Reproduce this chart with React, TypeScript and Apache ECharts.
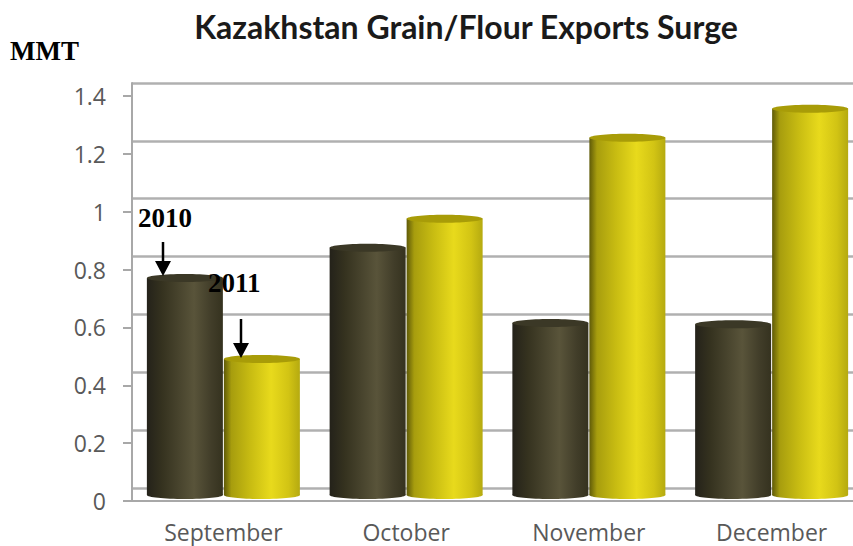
import React, { useEffect, useRef } from "react";
import * as echarts from "echarts";

const months = ["September", "October", "November", "December"];
const exports2010 = [0.75, 0.855, 0.595, 0.59];
const exports2011 = [0.47, 0.955, 1.235, 1.335];
const titleText = "Kazakhstan Grain/Flour Exports Surge";
const unitText = "MMT";

const AXIS_GREY = "#a8a8a8";
const DEPTH = 6;
const BAR_W = 76;
const RY = 4;

function grad(stops: [number, string][]) {
  return new echarts.graphic.LinearGradient(0, 0, 1, 0, stops.map(([offset, color]) => ({ offset, color })));
}
const darkBody: [number, string][] = [[0, "#24221a"], [0.2, "#35321f"], [0.62, "#59543a"], [0.85, "#413d29"], [1, "#35321f"]];
const yellowBody: [number, string][] = [[0, "#5f5a08"], [0.1, "#a79d0e"], [0.35, "#c8bc12"], [0.62, "#e8da1c"], [0.85, "#d2c414"], [1, "#b5aa10"]];

function cylinder(side: number, body: [number, string][], top: string) {
  return (params: any, api: any) => {
    const idx = api.value(0);
    const [cx, yTop] = api.coord([idx, api.value(1)]);
    const [, yBase] = api.coord([idx, 0]);
    const x = side === 0 ? cx - BAR_W - 0.5 : cx + 0.5;
    const t = yTop - DEPTH;
    const b = yBase - DEPTH;
    const fill = grad(body);
    return {
      type: "group",
      children: [
        { type: "ellipse", shape: { cx: x + BAR_W / 2, cy: b, rx: BAR_W / 2, ry: RY }, style: { fill } },
        { type: "rect", shape: { x, y: t, width: BAR_W, height: b - t }, style: { fill } },
        { type: "ellipse", shape: { cx: x + BAR_W / 2, cy: t, rx: BAR_W / 2, ry: RY }, style: { fill: top } },
      ],
    };
  };
}

function arrow(x: number, y1: number, y2: number) {
  return [
    { type: "line", z: 100, shape: { x1: x, y1, x2: x, y2: y2 - 8 }, style: { stroke: "#000", lineWidth: 2.5 } },
    { type: "polygon", z: 100, shape: { points: [[x - 8, y2 - 15], [x + 8, y2 - 15], [x, y2]] }, style: { fill: "#000" } },
  ];
}
function note(text: string, x: number, y: number) {
  return {
    type: "text", z: 100, x, y,
    style: { text, fill: "#000", font: 'bold 27px "Liberation Serif"', textVerticalAlign: "middle" },
  };
}

export default function App() {
  const ref = useRef<HTMLDivElement>(null);
  useEffect(() => {
    document.body.style.margin = "0";
    const chart = echarts.init(ref.current!, undefined, { renderer: "svg" });
    const yBase = { type: "value", min: 0, max: 1.4, interval: 0.2 };
    chart.setOption({
      animation: false,
      backgroundColor: "#fff",
      title: {
        text: titleText,
        left: 461,
        top: 5,
        textAlign: "center",
        textStyle: { fontFamily: "Lato", fontWeight: 700, fontSize: 32, color: "#1a1a1a" },
      },
      grid: [
        { left: 132, top: 96, width: 731, height: 405 },
        { left: 132, top: 83, width: 731, height: 405 },
      ],
      xAxis: [
        {
          type: "category", data: months, gridIndex: 0,
          axisLine: { lineStyle: { color: AXIS_GREY, width: 2 } },
          axisTick: { length: 9, lineStyle: { color: AXIS_GREY, width: 2 } },
          axisLabel: { color: "#595959", fontFamily: "Open Sans", fontSize: 23, margin: 19 },
        },
        { type: "category", data: months, gridIndex: 1, show: false },
      ],
      yAxis: [
        {
          ...yBase, gridIndex: 0,
          axisLine: { show: true, lineStyle: { color: AXIS_GREY, width: 2 } },
          axisTick: { show: true, length: 9, lineStyle: { color: AXIS_GREY, width: 2 } },
          axisLabel: { color: "#595959", fontFamily: "Open Sans", fontSize: 23, margin: 26 },
          splitLine: { show: false },
        },
        {
          ...yBase, gridIndex: 1,
          axisLine: { show: true, lineStyle: { color: AXIS_GREY, width: 2 } },
          axisTick: { show: false },
          axisLabel: { show: false },
          splitLine: { show: true, lineStyle: { color: "#b0b0b0", width: 2.5 } },
        },
      ],
      series: [
        {
          name: "2010", type: "custom", xAxisIndex: 0, yAxisIndex: 0, z: 5,
          renderItem: cylinder(0, darkBody, "#3b3826"),
          encode: { x: 0, y: 1 },
          data: exports2010.map((v, i) => [i, v]),
        },
        {
          name: "2011", type: "custom", xAxisIndex: 0, yAxisIndex: 0, z: 6,
          renderItem: cylinder(1, yellowBody, "#a89c08"),
          encode: { x: 0, y: 1 },
          data: exports2011.map((v, i) => [i, v]),
        },
      ],
      graphic: [
        note(unitText, 10, 51),
        note("2010", 138, 218),
        note("2011", 208, 283),
        ...arrow(163, 242, 276),
        ...arrow(241, 319, 358),
      ],
    });
    return () => chart.dispose();
  }, []);
  return (
    <div style={{ width: 853, height: 546, overflow: "hidden" }}>
      <div ref={ref} style={{ width: 880, height: 546 }} />
    </div>
  );
}
